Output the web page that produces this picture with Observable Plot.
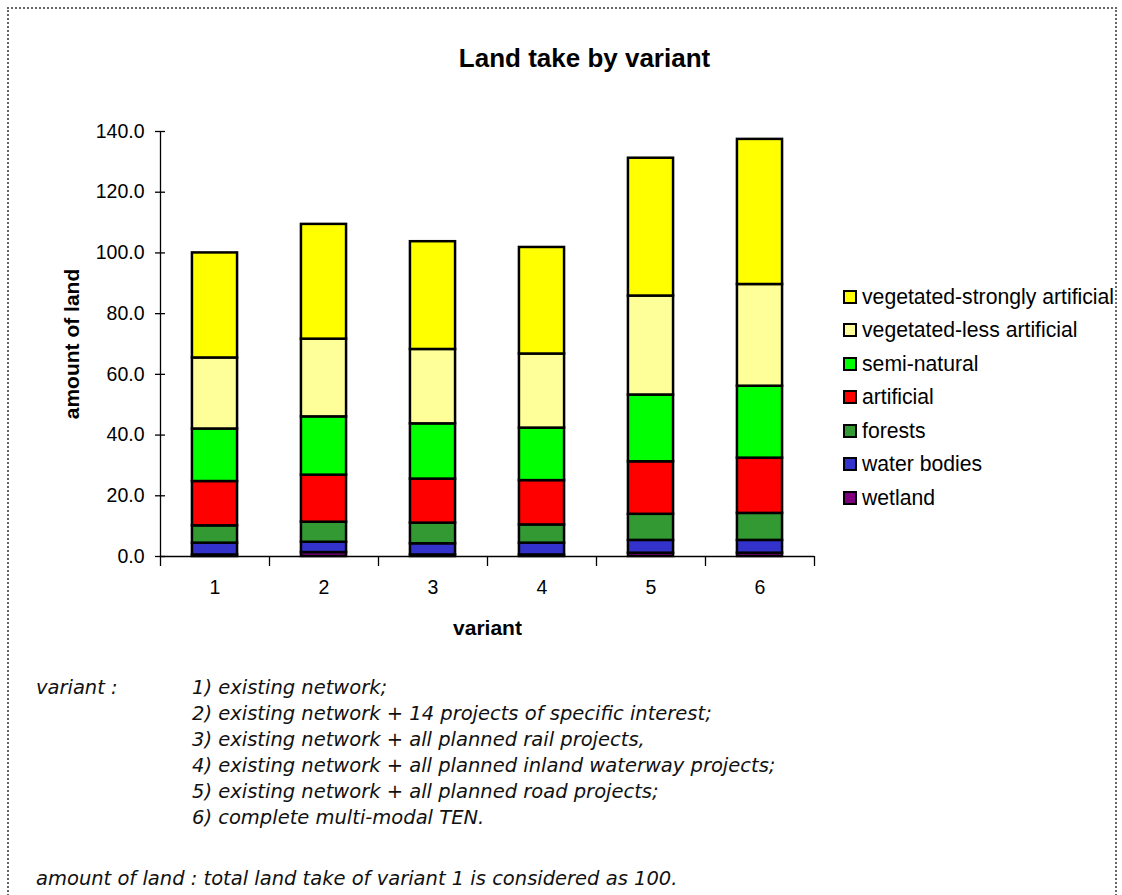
<!DOCTYPE html>
<html>
<head>
<meta charset="utf-8">
<script src="https://cdn.jsdelivr.net/npm/d3@7"></script>
<script src="https://cdn.jsdelivr.net/npm/@observablehq/plot@0.6"></script>
<style>
  html, body { margin: 0; padding: 0; background: #fff; }
  #page { position: relative; width: 1122px; height: 895px; overflow: hidden; font-family: "Liberation Sans", Arial, sans-serif; }
  #border { position: absolute; left: 7px; top: 7px; width: 1110px; height: 900px; border: 2px dotted #666; box-sizing: border-box; }
  #chart { position: absolute; left: 0; top: 0; }
  #legend { position: absolute; left: 843px; top: 280px; font-size: 21.2px; color: #000; }
  .li { height: 33.5px; display: flex; align-items: center; }
  .sw { width: 10px; height: 10px; border: 2px solid #000; margin-right: 5px; }
  .foot { position: absolute; font-family: "DejaVu Sans", sans-serif; font-style: italic; font-size: 19.5px; color: #111; white-space: nowrap; line-height: 26px; }
</style>
</head>
<body>
<div id="page">
  <div id="border"></div>
  <div id="chart"></div>
  <div id="legend"></div>
  <div id="notes"></div>
</div>
<script>
const variants = [1, 2, 3, 4, 5, 6];
const categories = ["wetland", "water bodies", "forests", "artificial", "semi-natural", "vegetated-less artificial", "vegetated-strongly artificial"];
const colors = ["#800080", "#3333cc", "#339933", "#ff0000", "#00ff00", "#ffff99", "#ffff00"];
const wetland = [0.5, 1.3, 0.5, 0.5, 1.1, 1.1];
const waterBodies = [3.9, 3.4, 3.7, 3.9, 4.2, 4.2];
const forests = [5.7, 6.6, 6.8, 6.0, 8.6, 8.9];
const artificial = [14.6, 15.5, 14.5, 14.6, 17.3, 18.2];
const semiNatural = [17.3, 19.2, 18.2, 17.3, 22.0, 23.7];
const vegLess = [23.4, 25.6, 24.5, 24.4, 32.6, 33.5];
const vegStrong = [34.6, 37.8, 35.5, 35.1, 45.4, 47.8];
const yTicks = [0, 20, 40, 60, 80, 100, 120, 140];
const variantNotes = [
  "1) existing network;",
  "2) existing network + 14 projects of specific interest;",
  "3) existing network + all planned rail projects,",
  "4) existing network + all planned inland waterway projects;",
  "5) existing network + all planned road projects;",
  "6) complete multi-modal TEN."
];
const amountNote = "amount of land : total land take of variant 1 is considered as 100.";

const series = [wetland, waterBodies, forests, artificial, semiNatural, vegLess, vegStrong];
const rows = [];
variants.forEach((v, i) => {
  let base = 0;
  series.forEach((s, k) => {
    rows.push({variant: v, cat: categories[k], y1: base, y2: base + s[i]});
    base += s[i];
  });
});
const half = 0.207;
const boundaries = [...variants.map(v => v - 0.5), variants[variants.length - 1] + 0.5];

const font = "'Liberation Sans', Arial, sans-serif";
const plot = Plot.plot({
  width: 1122,
  height: 640,
  marginLeft: 160,
  marginRight: 308,
  marginTop: 131,
  marginBottom: 84,
  style: {fontFamily: font, fontSize: "19.5px", color: "#000", background: "transparent"},
  x: {domain: [0.5, 6.5], ticks: variants, tickFormat: d => String(d), tickSize: 0, tickPadding: 24, label: null},
  y: {domain: [0, 140], ticks: yTicks, tickFormat: d => d.toFixed(1), tickSize: 0, tickPadding: 16, label: null},
  color: {domain: categories, range: colors},
  marks: [
    Plot.rect(rows, {x1: d => d.variant - half, x2: d => d.variant + half, y1: "y1", y2: "y2", fill: "cat", stroke: "#000", strokeWidth: 2.5}),
    Plot.ruleX([0.5], {y1: 0, y2: 140, stroke: "#000", strokeWidth: 1.3}),
    Plot.ruleY([0], {stroke: "#000", strokeWidth: 1.3}),
    Plot.ruleX(boundaries, {y1: 0, y2: -3.3, stroke: "#000", strokeWidth: 1.3}),
    Plot.ruleY(yTicks, {insetRight: 644, dx: -5, stroke: "#000", strokeWidth: 1.3}),
    Plot.text(["Land take by variant"], {frameAnchor: "top", lineAnchor: "middle", dx: 97, dy: -73, fontSize: 26, fontWeight: "bold"}),
    Plot.text(["variant"], {frameAnchor: "bottom", lineAnchor: "middle", dy: 72, fontSize: 21, fontWeight: "bold"}),
    Plot.text(["amount of land"], {frameAnchor: "left", textAnchor: "middle", lineAnchor: "middle", dx: -88, rotate: -90, fontSize: 21, fontWeight: "bold"})
  ]
});
document.getElementById("chart").appendChild(plot);

const legend = document.getElementById("legend");
for (let k = categories.length - 1; k >= 0; k--) {
  const li = document.createElement("div");
  li.className = "li";
  const sw = document.createElement("div");
  sw.className = "sw";
  sw.style.background = colors[k];
  const t = document.createElement("span");
  t.textContent = categories[k];
  li.appendChild(sw); li.appendChild(t);
  legend.appendChild(li);
}

const notes = document.getElementById("notes");
const lab = document.createElement("div");
lab.className = "foot"; lab.style.left = "36px"; lab.style.top = "675px"; lab.textContent = "variant :";
notes.appendChild(lab);
variantNotes.forEach((n, i) => {
  const d = document.createElement("div");
  d.className = "foot"; d.style.left = "192px"; d.style.top = (675 + i * 26) + "px"; d.textContent = n;
  notes.appendChild(d);
});
const an = document.createElement("div");
an.className = "foot"; an.style.left = "36px"; an.style.top = "866px"; an.textContent = amountNote;
notes.appendChild(an);
</script>
</body>
</html>
